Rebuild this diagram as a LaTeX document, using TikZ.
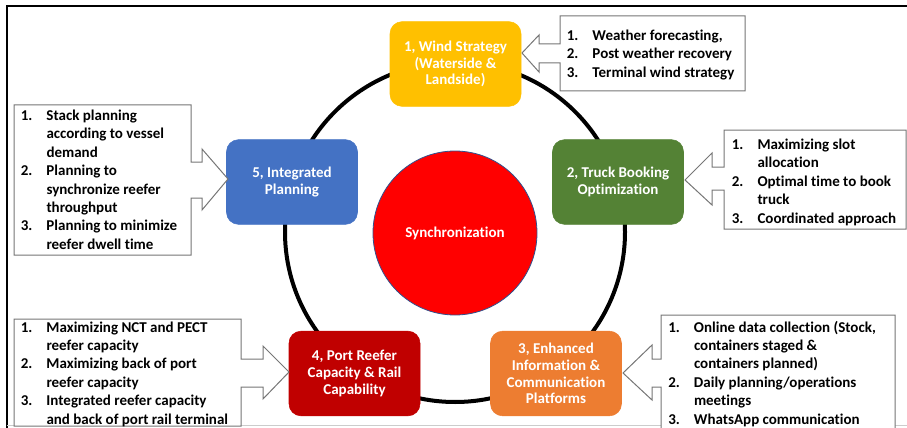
\documentclass[tikz,border=0pt]{standalone}
\usepackage{fontspec}
\setmainfont{Carlito}[Ligatures=NoCommon]
\definecolor{cyel}{HTML}{FFC000}
\definecolor{cgrn}{HTML}{548235}
\definecolor{cblu}{HTML}{4472C4}
\definecolor{cdred}{HTML}{C00000}
\definecolor{corg}{HTML}{ED7D31}
\definecolor{cred}{HTML}{FF0000}
\definecolor{cedge}{HTML}{2F528F}
\definecolor{cgray}{HTML}{767676}
\newcommand\clist[1]{{\fontsize{11.25pt}{13.8pt}\selectfont\bfseries\begin{tabular}[t]{@{}p{19.3pt}@{}l@{}}#1\end{tabular}}}
\begin{document}
\begin{tikzpicture}[x=0.75pt,y=-0.75pt,
  box/.style={rectangle, rounded corners=9pt, fill=#1, draw=#1, text=white,
    minimum width=98.25pt, minimum height=63.5pt, inner sep=2pt, align=center,
    font=\fontsize{11.25pt}{12.6pt}\selectfont\bfseries},
  callout/.style={draw=cgray, line width=0.75pt, fill=white},
  ctext/.style={anchor=base west, inner sep=0pt, text=black},
  ring/.style={line width=3pt, draw=black}]
\useasboundingbox (0,0) rectangle (907,428);
\clip (0,0) rectangle (907,428);
% frame
\draw[line width=1.5pt] (6.5,428) -- (6.5,6.5) -- (907,6.5);
\draw[line width=0.75pt, draw=black!20] (6.5,425.5) -- (907,425.5);
% ring
\coordinate (ctr) at (455,232);
\draw[ring] (ctr) circle[radius=170];
% centre circle
\node[circle, fill=cred, draw=cedge, line width=0.6pt, minimum size=123pt, inner sep=0pt,
  text=white, font=\fontsize{11.25pt}{13.8pt}\selectfont\bfseries] (sync) at (455,233) {Synchronization};
% boxes
\node[box=cyel] (b1) at (455.5,64) {1, Wind Strategy\\(Waterside \&\\Landside)};
\node[box=cgrn] (b2) at (618,182) {2, Truck Booking\\Optimization};
\node[box=corg] (b3) at (556,373.5) {3, Enhanced\\Information \&\\Communication\\Platforms};
\node[box=cdred] (b4) at (354.5,373.5) {4, Port Reefer\\Capacity \& Rail\\Capability};
\node[box=cblu] (b5) at (292,182) {5, Integrated\\Planning};
% callout 1 (points left)
\draw[callout] (560,16) -- (745,16) -- (745,91) -- (560,91) -- (560,63) -- (539,63) -- (539,72)
  -- (522,53) -- (539,35) -- (539,44) -- (560,44) -- cycle;
\node[ctext] (c1) at (566.5,40.3) {\clist{1.&Weather forecasting,\\2.&Post weather recovery\\3.&Terminal wind strategy}};
% callout 2 (points left)
\draw[callout] (724,130) -- (906,130) -- (906,229) -- (724,229) -- (724,190) -- (712,190) -- (712,205)
  -- (685,180) -- (712,153) -- (712,167) -- (724,167) -- cycle;
\node[ctext] (c2) at (731.5,149.5) {\clist{1.&Maximizing slot\\&allocation\\2.&Optimal time to book\\&truck\\3.&Coordinated approach}};
% callout 3 (points left)
\draw[callout] (661,315) -- (895,315) -- (895,445) -- (661,445) -- (661,387) -- (652,387) -- (652,400)
  -- (623,373) -- (652,345) -- (652,359) -- (661,359) -- cycle;
\node[ctext] (c3) at (668,332) {\clist{1.&Online data collection (Stock,\\&containers staged \&\\&containers planned)\\2.&Daily planning/operations\\&meetings\\3.&WhatsApp communication}};
% callout 4 (points right)
\draw[callout] (14,319) -- (241,319) -- (241,359) -- (263,359) -- (263,346) -- (289,372) -- (263,399)
  -- (263,387) -- (241,387) -- (241,426) -- (14,426) -- cycle;
\node[ctext] (c4) at (20.5,332) {\clist{1.&Maximizing NCT and PECT\\&reefer capacity\\2.&Maximizing back of port\\&reefer capacity\\3.&Integrated reefer capacity\\&and back of port rail terminal}};
% callout 5 (points right)
\draw[callout] (14,105) -- (191,105) -- (191,162) -- (202,162) -- (202,149) -- (228,179) -- (202,210)
  -- (202,198) -- (191,198) -- (191,255) -- (14,255) -- cycle;
\node[ctext] (c5) at (20.5,120.5) {\clist{1.&Stack planning\\&according to vessel\\&demand\\2.&Planning to\\&synchronize reefer\\&throughput\\3.&Planning to minimize\\&reefer dwell time}};
\end{tikzpicture}
\end{document}
